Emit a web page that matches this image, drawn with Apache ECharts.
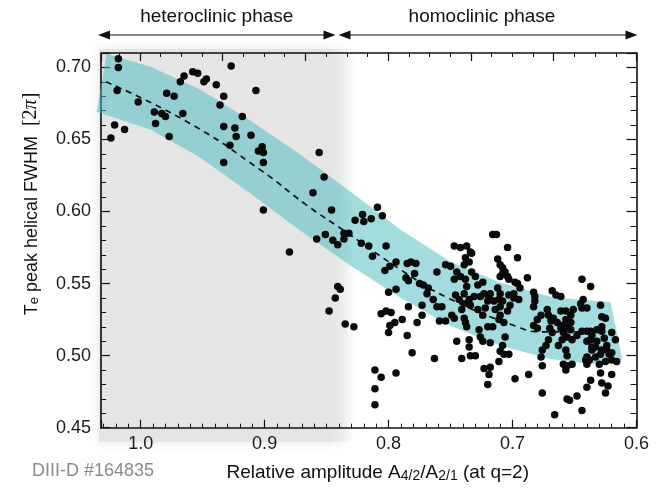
<!DOCTYPE html>
<html>
<head>
<meta charset="utf-8">
<script src="https://cdn.jsdelivr.net/npm/echarts@6/dist/echarts.min.js"></script>
<style>html,body{margin:0;padding:0;background:#fff}#c{width:672px;height:489px}</style>
</head>
<body>
<div id="c"></div>
<script>
// ---- data ----
const xRange = [0.6, 1.032];
const yRange = [0.45, 0.71];
const phaseBoundary = 0.842;
const phaseLabels = ['heteroclinic phase', 'homoclinic phase'];
const shotLabel = 'DIII-D #164835';

const trendX = [1.028, 0.962, 0.902, 0.867, 0.833, 0.790, 0.752, 0.696, 0.677, 0.639, 0.627];
const trendY = [0.690, 0.662, 0.628, 0.605, 0.585, 0.5595, 0.540, 0.520, 0.5165, 0.5165, 0.516];

const bandUpperX = [1.0274, 0.9919, 0.9516, 0.9113, 0.8710, 0.8306, 0.7903, 0.7500, 0.7097, 0.6694, 0.6452, 0.6210];
const bandUpperY = [0.7095, 0.7005, 0.6845, 0.6630, 0.6394, 0.6137, 0.5873, 0.5651, 0.5505, 0.5408, 0.5387, 0.5373];
const bandLowerX = [1.0355, 0.9919, 0.9516, 0.9113, 0.8710, 0.8306, 0.7903, 0.7500, 0.7097, 0.6694, 0.6371, 0.6113];
const bandLowerY = [0.6692, 0.6568, 0.6373, 0.6123, 0.5866, 0.5623, 0.5401, 0.5206, 0.5068, 0.4977, 0.4942, 0.4970];

const measured = [
[1.018,0.706],[1.018,0.700],[1.019,0.684],[1.021,0.660],[1.013,0.657],[1.024,0.651],
[0.927,0.701],[0.965,0.694],[0.958,0.697],[0.954,0.696],[0.968,0.690],[0.947,0.692],[0.949,0.690],[0.939,0.688],
[0.979,0.682],[0.973,0.680],[0.933,0.680],[0.907,0.684],[1.002,0.676],[0.936,0.674],[0.989,0.669],[0.983,0.668],
[0.980,0.666],[0.966,0.668],[0.988,0.661],[0.918,0.666],[0.933,0.659],[0.924,0.658],[0.977,0.652],[0.923,0.652],
[0.911,0.653],[0.928,0.646],[0.902,0.645],[0.905,0.642],[0.901,0.634],[0.933,0.634],[0.901,0.641],
[0.856,0.641],[0.852,0.624],[0.861,0.613],[0.846,0.601],[0.901,0.601],[0.836,0.585],[0.832,0.585],[0.851,0.584],
[0.858,0.581],[0.845,0.580],[0.841,0.577],[0.836,0.581],[0.880,0.572],[0.827,0.594],
[0.809,0.603],[0.821,0.598],[0.805,0.597],[0.820,0.593],[0.814,0.595],[0.822,0.578],[0.816,0.576],[0.802,0.576],
[0.813,0.569],[0.794,0.565],[0.799,0.562],[0.803,0.559],[0.785,0.564],[0.782,0.565],[0.778,0.564],[0.779,0.557],
[0.786,0.554],[0.784,0.552],[0.794,0.546],[0.800,0.544],[0.775,0.550],[0.841,0.548],[0.839,0.546],[0.843,0.540],
[0.848,0.531],[0.784,0.534],[0.806,0.529],[0.802,0.531],[0.798,0.530],[0.835,0.522],[0.828,0.520],[0.789,0.525],
[0.795,0.523],[0.799,0.521],[0.800,0.516],[0.785,0.514],[0.777,0.523],[0.781,0.502],[0.811,0.490],[0.806,0.485],
[0.794,0.488],[0.811,0.477],[0.811,0.466],
[0.716,0.584],[0.713,0.584],[0.747,0.576],[0.742,0.575],[0.737,0.576],[0.734,0.572],[0.733,0.571],[0.738,0.568],
[0.735,0.565],[0.739,0.563],[0.704,0.575],[0.696,0.568],[0.712,0.567],[0.710,0.563],[0.708,0.561],[0.706,0.558],
[0.708,0.557],[0.704,0.555],[0.703,0.553],[0.698,0.551],[0.696,0.550],[0.694,0.547],[0.688,0.554],
[0.754,0.563],[0.750,0.562],[0.761,0.558],[0.745,0.558],[0.747,0.553],[0.742,0.555],[0.738,0.553],[0.733,0.558],
[0.730,0.555],[0.737,0.548],[0.728,0.549],[0.772,0.549],[0.768,0.547],[0.769,0.543],[0.764,0.539],[0.761,0.534],
[0.757,0.534],[0.773,0.535],[0.746,0.542],[0.739,0.543],[0.743,0.539],[0.735,0.539],[0.731,0.541],[0.734,0.535],
[0.739,0.536],[0.741,0.532],[0.749,0.528],[0.747,0.526],[0.754,0.524],[0.759,0.524],[0.773,0.528],[0.739,0.526],
[0.738,0.523],[0.737,0.520],[0.728,0.532],[0.724,0.528],[0.727,0.518],[0.726,0.513],[0.724,0.510],[0.735,0.511],
[0.745,0.510],[0.735,0.506],[0.734,0.500],[0.730,0.500],[0.741,0.498],[0.763,0.498],
[0.723,0.543],[0.719,0.541],[0.720,0.538],[0.722,0.533],[0.718,0.543],[0.715,0.538],[0.712,0.547],[0.710,0.543],
[0.711,0.539],[0.708,0.538],[0.714,0.532],[0.710,0.528],[0.711,0.525],[0.707,0.523],[0.704,0.531],[0.702,0.535],
[0.699,0.540],[0.703,0.542],[0.699,0.543],[0.695,0.539],[0.720,0.520],[0.716,0.520],[0.718,0.509],[0.708,0.507],
[0.710,0.503],[0.706,0.513],[0.711,0.496],[0.707,0.501],[0.703,0.501],[0.723,0.491],[0.718,0.492],[0.719,0.487],
[0.720,0.480],[0.698,0.484],[0.687,0.487],[0.710,0.555],[0.724,0.551],[0.726,0.541],[0.710,0.534],
[0.683,0.544],[0.682,0.541],[0.682,0.538],[0.668,0.545],[0.665,0.542],[0.661,0.541],[0.644,0.553],[0.637,0.548],
[0.672,0.532],[0.671,0.528],[0.661,0.531],[0.657,0.531],[0.653,0.528],[0.651,0.532],[0.644,0.533],[0.645,0.536],
[0.643,0.539],[0.629,0.535],[0.680,0.525],[0.683,0.521],[0.680,0.519],[0.669,0.524],[0.667,0.526],[0.664,0.523],
[0.660,0.521],[0.657,0.525],[0.656,0.520],[0.653,0.523],[0.670,0.519],[0.668,0.516],[0.671,0.511],[0.673,0.507],
[0.676,0.504],[0.677,0.499],[0.676,0.493],[0.663,0.507],[0.660,0.511],[0.656,0.513],[0.652,0.511],[0.657,0.504],
[0.656,0.500],[0.659,0.494],[0.656,0.493],[0.652,0.494],[0.657,0.490],[0.648,0.514],[0.644,0.517],[0.640,0.517],
[0.637,0.517],[0.636,0.514],[0.628,0.527],[0.625,0.526],[0.628,0.520],[0.632,0.518],[0.620,0.516],[0.617,0.511],
[0.626,0.512],[0.632,0.510],[0.637,0.511],[0.636,0.506],[0.636,0.504],[0.640,0.499],[0.641,0.497],[0.638,0.497],
[0.633,0.499],[0.629,0.501],[0.624,0.504],[0.622,0.501],[0.620,0.497],[0.616,0.496],[0.624,0.507],[0.630,0.494],
[0.640,0.494],[0.629,0.488],[0.620,0.487],[0.628,0.481],[0.623,0.479],[0.625,0.474],[0.637,0.483],[0.640,0.478],
[0.648,0.472],[0.656,0.470],[0.654,0.469],[0.644,0.462],[0.666,0.459],[0.676,0.474],
[0.683,0.534],[0.677,0.528],[0.640,0.533],[0.661,0.519],[0.659,0.516],[0.653,0.518],[0.640,0.510],[0.633,0.506],
[0.628,0.517],[0.628,0.504],[0.620,0.502],[0.625,0.496]
];

// ---- chart ----
const FONT = '"Liberation Sans", Arial, Helvetica, sans-serif';
const SERIF = '"Liberation Serif", "Times New Roman", serif';
const INK = '#111';
const chart = echarts.init(document.getElementById('c'), null, {renderer: 'canvas'});

const onStep = (v, step) => Math.abs(v / step - Math.round(v / step)) < 1e-6;

function frameAxis(extra) {
  return Object.assign({
    type: 'value',
    axisLine: {show: true, onZero: false, lineStyle: {color: INK, width: 1.6}},
    axisTick: {show: true, inside: true, length: 8, lineStyle: {color: INK, width: 1.2}},
    minorTick: {show: true, length: 4, lineStyle: {color: INK, width: 1}},
    splitLine: {show: false},
    minorSplitLine: {show: false}
  }, extra);
}

const option = {
  animation: false,
  backgroundColor: '#fff',
  grid: {left: 101, right: 35.5, top: 53, bottom: 61.3, containLabel: false, outerBoundsMode: 'none'},
  xAxis: [
    frameAxis({
      position: 'bottom', inverse: true, min: xRange[0], max: xRange[1], interval: 0.1,
      minorTick: {show: true, splitNumber: 10, length: 4, lineStyle: {color: INK, width: 1}},
      axisLabel: {show: true, fontSize: 18, color: '#1a1a1a', fontFamily: FONT, margin: 7,
        formatter: v => onStep(v, 0.1) ? v.toFixed(1) : ''}
    }),
    frameAxis({
      position: 'top', inverse: true, min: 0, max: 6.47, interval: 1,
      minorTick: {show: true, splitNumber: 4, length: 4, lineStyle: {color: INK, width: 1}},
      axisLabel: {show: false}
    })
  ],
  yAxis: [
    frameAxis({
      position: 'left', min: yRange[0], max: yRange[1], interval: 0.05,
      axisTick: {show: true, inside: true, length: 9, lineStyle: {color: INK, width: 1.2}},
      minorTick: {show: true, splitNumber: 5, length: 5, lineStyle: {color: INK, width: 1}},
      axisLabel: {show: true, fontSize: 18, color: '#1a1a1a', fontFamily: FONT, margin: 10,
        formatter: v => onStep(v, 0.05) ? v.toFixed(2) : ''}
    }),
    frameAxis({
      position: 'right', min: yRange[0], max: yRange[1], interval: 0.05,
      axisTick: {show: true, inside: true, length: 10, lineStyle: {color: INK, width: 1.2}},
      minorTick: {show: true, splitNumber: 5, length: 6, lineStyle: {color: INK, width: 1}},
      axisLabel: {show: false}
    })
  ],
  series: [
    {
      type: 'custom', xAxisIndex: 0, yAxisIndex: 0, silent: true, z: 1, clip: false,
      data: [[0.8, 0.55]],
      renderItem: (params, api) => {
        const pts = [];
        for (let i = 0; i < bandUpperX.length; i++) pts.push(api.coord([bandUpperX[i], bandUpperY[i]]));
        for (let i = bandLowerX.length - 1; i >= 0; i--) pts.push(api.coord([bandLowerX[i], bandLowerY[i]]));
        return {type: 'polygon', shape: {points: pts}, style: {fill: 'rgba(70,186,190,0.5)'}};
      }
    },
    {
      type: 'line', xAxisIndex: 0, yAxisIndex: 0, z: 3, silent: true,
      data: trendX.map((x, i) => [x, trendY[i]]),
      smooth: true, symbol: 'none', showSymbol: false,
      lineStyle: {color: INK, width: 1.7, type: [6, 5]}
    },
    {
      type: 'scatter', xAxisIndex: 0, yAxisIndex: 0, z: 4, silent: true,
      data: measured, symbol: 'circle', symbolSize: 7.5,
      itemStyle: {color: '#0a0a0a', opacity: 1}
    }
  ]
};
chart.setOption(option);

// ---- annotations placed through the axes ----
const px = (x, y) => chart.convertToPixel({xAxisIndex: 0, yAxisIndex: 0}, [x, y]);
const [xL, yT] = px(xRange[1], yRange[1]);
const [xR, yB] = px(xRange[0], yRange[0]);
const xP = px(phaseBoundary, yRange[0])[0];

const greyX0 = xL - 2, greyX1 = xP + 18;
const solidEnd = (xP - 8 - greyX0) / (greyX1 - greyX0);
const arrowY = yT - 18;
const head = (tipX, dir) => ({
  type: 'polygon', z: 20,
  shape: {points: [[tipX, arrowY], [tipX - dir * 12, arrowY - 4.5], [tipX - dir * 12, arrowY + 4.5]]},
  style: {fill: INK}
});
const arrowLine = (a, b) => ({
  type: 'line', z: 20, shape: {x1: a, y1: arrowY, x2: b, y2: arrowY},
  style: {stroke: INK, lineWidth: 1.2}
});
const leftA = xL - 3, leftB = xP - 1, rightA = xP + 2, rightB = xR + 1;

const graphics = [
  {
    type: 'rect', z: -10, silent: true,
    shape: {x: greyX0, y: yT - 4, width: greyX1 - greyX0, height: (yB - yT) + 18},
    style: {
      fill: new echarts.graphic.LinearGradient(0, 0, 1, 0, [
        {offset: 0, color: 'rgba(229,229,229,1)'},
        {offset: solidEnd, color: 'rgba(229,229,229,1)'},
        {offset: 1, color: 'rgba(229,229,229,0)'}
      ]),
      shadowBlur: 10, shadowColor: 'rgba(229,229,229,1)'
    }
  },
  arrowLine(leftA + 6, leftB - 6), head(leftA, -1), head(leftB, 1),
  arrowLine(rightA + 6, rightB - 6), head(rightA, -1), head(rightB, 1),
  {type: 'text', z: 20, x: (leftA + leftB) / 2, y: yT - 36,
    style: {text: phaseLabels[0], fontSize: 19, fontFamily: FONT, fill: INK, align: 'center', verticalAlign: 'middle'}},
  {type: 'text', z: 20, x: (rightA + rightB) / 2 - 6, y: yT - 36,
    style: {text: phaseLabels[1], fontSize: 19, fontFamily: FONT, fill: INK, align: 'center', verticalAlign: 'middle'}},
  {type: 'text', z: 20, x: (xL + xR) / 2 + 9, y: yB + 43,
    style: {
      text: '{t|Relative amplitude A}{s|4/2}{t|/A}{s|2/1}{t| (at q=2)}',
      align: 'center', verticalAlign: 'middle', fill: INK,
      rich: {
        t: {fontSize: 19, fontFamily: FONT, fill: INK, lineHeight: 24, verticalAlign: 'bottom'},
        s: {fontSize: 14, fontFamily: FONT, fill: INK, lineHeight: 14, padding: [10, 0, 0, 0], verticalAlign: 'bottom'}
      }
    }},
  {type: 'text', z: 20, x: 93, y: yB + 43,
    style: {text: shotLabel, fontSize: 18, fontFamily: FONT, fill: '#8a8a8a', align: 'center', verticalAlign: 'middle'}},
  {type: 'text', z: 20, x: 29, y: 204, rotation: Math.PI / 2,
    style: {
      text: '{t|T}{s|e}{t| peak helical FWHM  }{b|[2}{p|\u03c0}{b|]}',
      align: 'center', verticalAlign: 'middle', fill: INK,
      rich: {
        t: {fontSize: 18, fontFamily: FONT, fill: INK, lineHeight: 24, verticalAlign: 'bottom'},
        s: {fontSize: 13, fontFamily: FONT, fill: INK, lineHeight: 14, padding: [10, 0, 0, 0], verticalAlign: 'bottom'},
        b: {fontSize: 20, fontFamily: SERIF, fill: INK, lineHeight: 24, verticalAlign: 'bottom'},
        p: {fontSize: 20, fontStyle: 'italic', fontFamily: SERIF, fill: INK, lineHeight: 24, verticalAlign: 'bottom'}
      }
    }}
];
chart.setOption({graphic: graphics});
</script>
</body>
</html>
